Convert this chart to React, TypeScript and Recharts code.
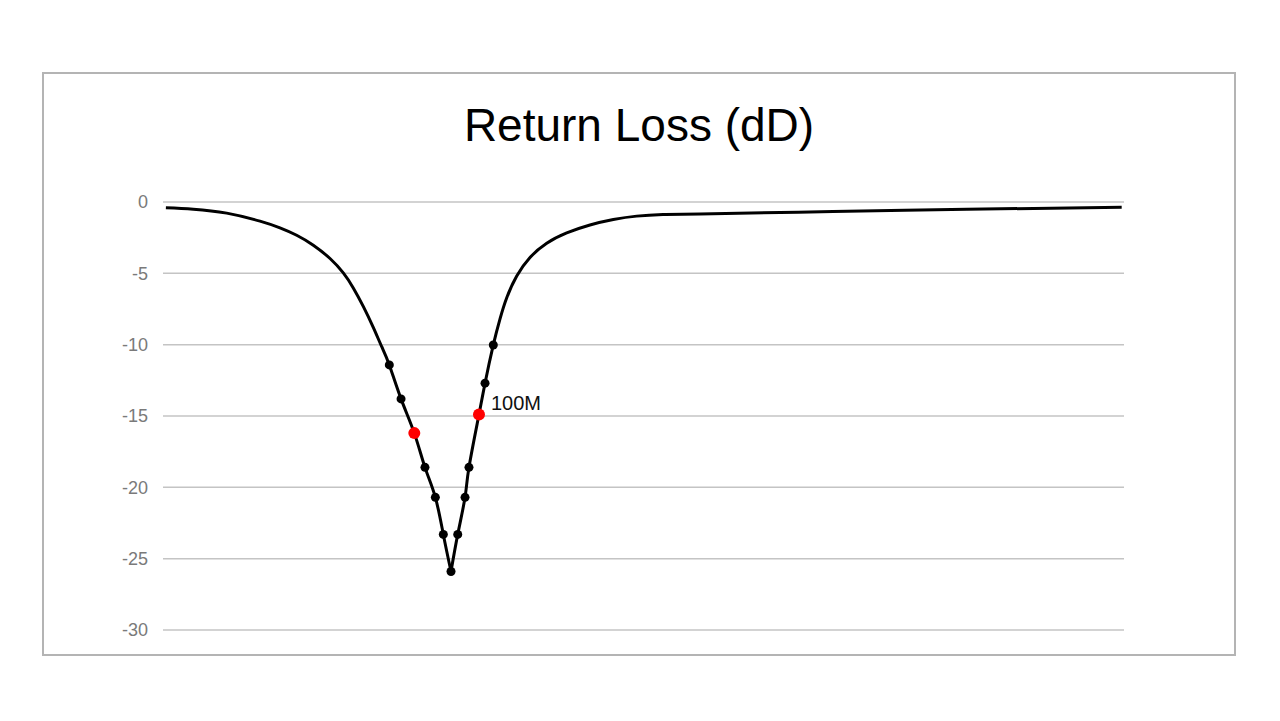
import React from "react";
import { ComposedChart, Line, Scatter, XAxis, YAxis, CartesianGrid } from "recharts";

// position along the sweep (arbitrary units 0..1000) and return loss in dB
const sweep = [
  3, 31.5, 66.3, 100.9, 121.7, 139.1, 156.4, 173.8, 187.6, 198, 208.4, 218.8,
  227.6, 235.5, 247.7, 261.5, 272.6, 283.4, 291.7, 299.7, 306.7, 314.3, 318.4,
  328.8, 335.1, 343.7, 350.7, 357.6, 368.1, 381.9, 399.3, 420.1, 444.3, 468.6,
  492.9, 520.3, 558.8, 697.2, 836.6, 997.6,
];
const returnLoss = [
  -0.4, -0.5, -0.78, -1.34, -1.81, -2.33, -3.03, -3.96, -4.97, -6.02, -7.32,
  -8.79, -10.14, -11.42, -13.8, -16.2, -18.6, -20.7, -23.3, -25.9, -23.3,
  -20.7, -18.6, -14.9, -12.7, -10.02, -8.19, -6.73, -5.19, -3.89, -2.89, -2.17,
  -1.61, -1.23, -0.99, -0.88, -0.84, -0.67, -0.51, -0.37,
];

// measured points (black) and highlighted points (red)
const pointSweep = [235.5, 247.7, 272.6, 283.4, 291.7, 299.7, 306.7, 314.3, 318.4, 335.1, 343.7];
const pointLoss = [-11.42, -13.8, -18.6, -20.7, -23.3, -25.9, -23.3, -20.7, -18.6, -12.7, -10.02];
const redSweep = [261.5, 328.8];
const redLoss = [-16.2, -14.9];
const redLabels = ["", "100M"];

const yTicks = [0, -5, -10, -15, -20, -25, -30];

const curve = sweep.map((x, i) => ({ x, y: returnLoss[i] }));
// split at the minimum so each side is drawn as its own smooth branch
const minIndex = returnLoss.indexOf(Math.min(...returnLoss));
const leftBranch = curve.slice(0, minIndex + 1);
const rightBranch = curve.slice(minIndex);
const points = pointSweep.map((x, i) => ({ x, y: pointLoss[i] }));
const redPoints = redSweep.map((x, i) => ({ x, y: redLoss[i], label: redLabels[i] }));

const font = "'Liberation Sans', Arial, Helvetica, sans-serif";

const RedDot = (props: any) => {
  const { cx, cy, payload } = props;
  return (
    <g>
      <circle cx={cx} cy={cy} r={6} fill="#ff0000" />
      {payload.label ? (
        <text x={cx + 12} y={cy - 5} fontSize={20} fill="#111" fontFamily={font}>
          {payload.label}
        </text>
      ) : null}
    </g>
  );
};

const BlackDot = (props: any) => {
  const { cx, cy } = props;
  return <circle cx={cx} cy={cy} r={4.5} fill="#000" />;
};

export default function App() {
  return (
    <div
      style={{
        position: "absolute",
        left: 42,
        top: 72,
        width: 1194,
        height: 584,
        boxSizing: "border-box",
        border: "2px solid #b4b4b4",
        background: "#fff",
        fontFamily: font,
      }}
    >
      <div
        style={{
          position: "absolute",
          top: 28,
          left: 0,
          width: "100%",
          textAlign: "center",
          fontSize: 46,
          lineHeight: "46px",
          color: "#000",
        }}
      >
        Return Loss (dD)
      </div>
      <div style={{ position: "absolute", left: 0, top: 0 }}>
        <ComposedChart
          width={1190}
          height={580}
          margin={{ top: 128, right: 110, bottom: 24, left: 0 }}
        >
          <CartesianGrid vertical={false} stroke="#c4c4c4" strokeWidth={1.5} />
          <XAxis dataKey="x" type="number" domain={[0, 1000]} hide />
          <YAxis
            dataKey="y"
            type="number"
            domain={[-30, 0]}
            ticks={yTicks}
            width={119}
            axisLine={false}
            tickLine={false}
            tickMargin={9}
            tick={{ fill: "#7a7a7a", fontSize: 18, fontFamily: font }}
          />
          <Line
            data={leftBranch}
            dataKey="y"
            type="natural"
            stroke="#000"
            strokeWidth={3}
            dot={false}
            activeDot={false}
            isAnimationActive={false}
          />
          <Line
            data={rightBranch}
            dataKey="y"
            type="natural"
            stroke="#000"
            strokeWidth={3}
            dot={false}
            activeDot={false}
            isAnimationActive={false}
          />
          <Scatter data={points} dataKey="y" shape={BlackDot} isAnimationActive={false} />
          <Scatter data={redPoints} dataKey="y" shape={RedDot} isAnimationActive={false} />
        </ComposedChart>
      </div>
    </div>
  );
}
